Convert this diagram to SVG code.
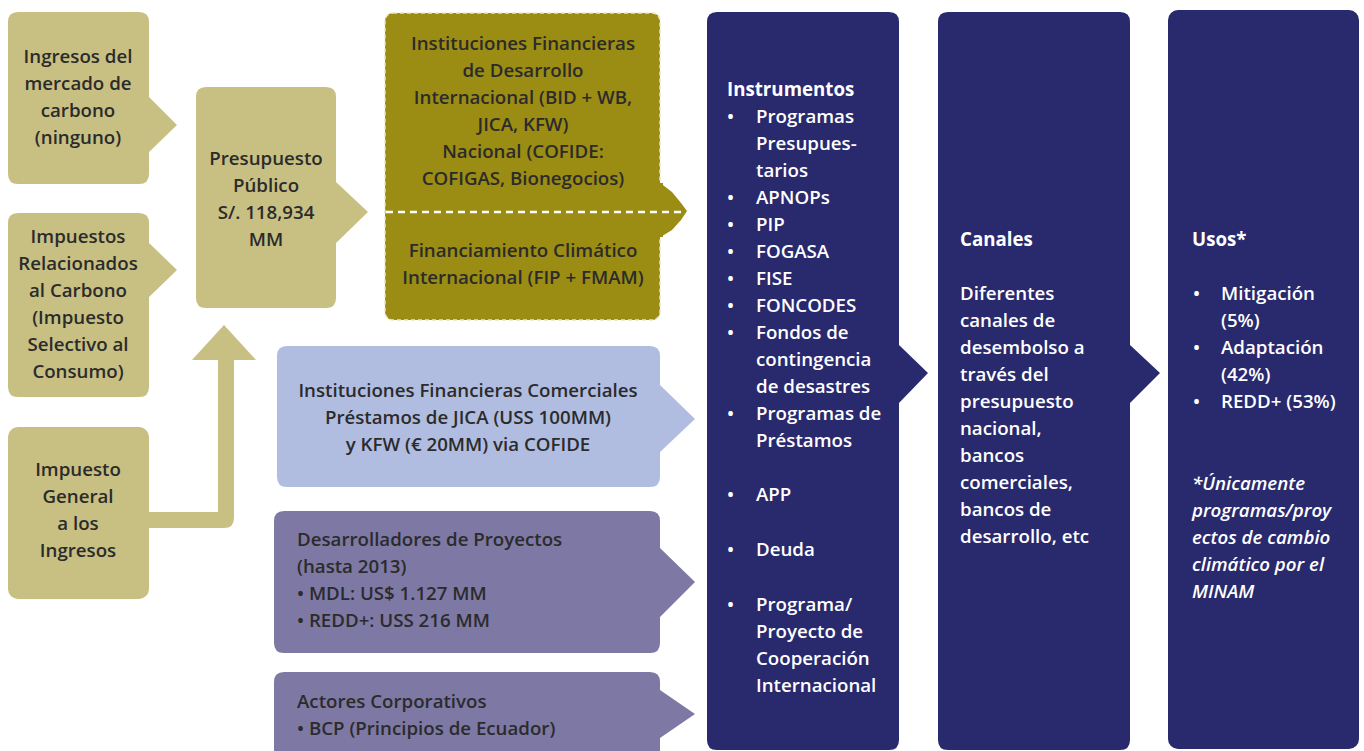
<svg xmlns="http://www.w3.org/2000/svg" width="1364" height="751" viewBox="0 0 1364 751">
<style>
.t{font-family:"Open Sans","Noto Sans","Liberation Sans",sans-serif;font-weight:600;font-size:18.7px;fill:#2b2b2b}
.c{text-anchor:middle}
.w{fill:#ffffff}
.b{font-weight:700}
.i{font-style:italic}
.tan{fill:#c8bf82}
.olive{fill:#9b8c13}
.blue{fill:#b0bde0}
.purple{fill:#7e78a5}
.navy{fill:#29296e}
</style>
<rect width="1364" height="751" fill="#ffffff"/>
<g id="ingresos-mercado">
<path class="tan" d="M18,12 H139 Q149,12 149,22 V97 L177,125 L149,152 V174 Q149,184 139,184 H18 Q8,184 8,174 V22 Q8,12 18,12 Z"/>
<text class="t c" x="78"><tspan x="78" y="63">Ingresos del</tspan><tspan x="78" y="90">mercado de</tspan><tspan x="78" y="117">carbono</tspan><tspan x="78" y="144">(ninguno)</tspan></text>
</g>
<g id="impuestos-carbono">
<path class="tan" d="M18,213 H139 Q149,213 149,223 V243 L177,270 L149,297 V387 Q149,397 139,397 H18 Q8,397 8,387 V223 Q8,213 18,213 Z"/>
<text class="t c"><tspan x="78" y="243">Impuestos</tspan><tspan x="78" y="270">Relacionados</tspan><tspan x="78" y="297">al Carbono</tspan><tspan x="78" y="324">(Impuesto</tspan><tspan x="78" y="351">Selectivo al</tspan><tspan x="78" y="378">Consumo)</tspan></text>
</g>
<g id="impuesto-general">
<rect class="tan" x="8" y="427" width="141" height="172" rx="10"/>
<text class="t c"><tspan x="78" y="476">Impuesto</tspan><tspan x="78" y="503">General</tspan><tspan x="78" y="530">a los</tspan><tspan x="78" y="557">Ingresos</tspan></text>
</g>
<g id="presupuesto">
<path class="tan" d="M206,87 H326 Q336,87 336,97 V182 L368,212 L336,243 V298 Q336,308 326,308 H206 Q196,308 196,298 V97 Q196,87 206,87 Z"/>
<text class="t c"><tspan x="266" y="165">Presupuesto</tspan><tspan x="266" y="192">Público</tspan><tspan x="266" y="219">S/. 118,934</tspan><tspan x="266" y="246">MM</tspan></text>
</g>
<g id="instituciones-desarrollo">
<polygon class="olive" points="659,182 672,192 681,203 687,211 681,220 672,230 659,238"/>
<rect class="olive" x="385" y="13" width="275" height="307" rx="8" stroke="#ece6c0" stroke-width="1.5" stroke-dasharray="4 3"/>
<rect class="olive" x="655" y="183" width="8" height="54"/>
<line x1="386" y1="212" x2="685" y2="212" stroke="#ffffff" stroke-width="2.5" stroke-dasharray="7 5"/>
<text class="t c"><tspan x="523" y="50">Instituciones Financieras</tspan><tspan x="523" y="77">de Desarrollo</tspan><tspan x="523" y="104">Internacional (BID + WB,</tspan><tspan x="523" y="131">JICA, KFW)</tspan><tspan x="523" y="158">Nacional (COFIDE:</tspan><tspan x="523" y="185">COFIGAS, Bionegocios)</tspan><tspan x="523" y="257">Financiamiento Climático</tspan><tspan x="523" y="284">Internacional (FIP + FMAM)</tspan></text>
</g>
<g id="instituciones-comerciales">
<path class="blue" d="M287,346 H650 Q660,346 660,356 V385 L695,419 L660,452 V477 Q660,487 650,487 H287 Q277,487 277,477 V356 Q277,346 287,346 Z"/>
<text class="t c"><tspan x="468" y="397">Instituciones Financieras Comerciales</tspan><tspan x="468" y="424">Préstamos de JICA (USS 100MM)</tspan><tspan x="468" y="451">y KFW (€ 20MM) via COFIDE</tspan></text>
</g>
<g id="desarrolladores">
<path class="purple" d="M284,511 H650 Q660,511 660,521 V548 L695,582 L660,617 V643 Q660,653 650,653 H284 Q274,653 274,643 V521 Q274,511 284,511 Z"/>
<text class="t"><tspan x="297" y="546">Desarrolladores de Proyectos</tspan><tspan x="297" y="573">(hasta 2013)</tspan><tspan x="297" y="600">• MDL: US$ 1.127 MM</tspan><tspan x="297" y="627">• REDD+: USS 216 MM</tspan></text>
</g>
<g id="actores-corporativos">
<path class="purple" d="M284,672 H650 Q660,672 660,682 V690 L695,714 L660,738 V761 H274 V682 Q274,672 284,672 Z"/>
<text class="t"><tspan x="297" y="708">Actores Corporativos</tspan><tspan x="297" y="735">• BCP (Principios de Ecuador)</tspan></text>
</g>
<g id="instrumentos">
<path class="navy" d="M717,12 H889 Q899,12 899,22 V345 L928,373 L899,403 V740 Q899,750 889,750 H717 Q707,750 707,740 V22 Q707,12 717,12 Z"/>
<text class="t w b"><tspan x="727" y="96">Instrumentos</tspan></text>
<text class="t w"><tspan x="727" y="123">•</tspan><tspan x="727" y="204">•</tspan><tspan x="727" y="231">•</tspan><tspan x="727" y="258">•</tspan><tspan x="727" y="285">•</tspan><tspan x="727" y="312">•</tspan><tspan x="727" y="339">•</tspan><tspan x="727" y="420">•</tspan><tspan x="727" y="501">•</tspan><tspan x="727" y="556">•</tspan><tspan x="727" y="611">•</tspan></text>
<text class="t w"><tspan x="756" y="123">Programas</tspan><tspan x="756" y="150">Presupues-</tspan><tspan x="756" y="177">tarios</tspan><tspan x="756" y="204">APNOPs</tspan><tspan x="756" y="231">PIP</tspan><tspan x="756" y="258">FOGASA</tspan><tspan x="756" y="285">FISE</tspan><tspan x="756" y="312">FONCODES</tspan><tspan x="756" y="339">Fondos de</tspan><tspan x="756" y="366">contingencia</tspan><tspan x="756" y="393">de desastres</tspan><tspan x="756" y="420">Programas de</tspan><tspan x="756" y="447">Préstamos</tspan><tspan x="756" y="501">APP</tspan><tspan x="756" y="556">Deuda</tspan><tspan x="756" y="611">Programa/</tspan><tspan x="756" y="638">Proyecto de</tspan><tspan x="756" y="665">Cooperación</tspan><tspan x="756" y="692">Internacional</tspan></text>
</g>
<g id="canales">
<path class="navy" d="M948,12 H1120 Q1130,12 1130,22 V345 L1160,373 L1130,403 V740 Q1130,750 1120,750 H948 Q938,750 938,740 V22 Q938,12 948,12 Z"/>
<text class="t w b"><tspan x="960" y="246">Canales</tspan></text>
<text class="t w"><tspan x="960" y="300">Diferentes</tspan><tspan x="960" y="327">canales de</tspan><tspan x="960" y="354">desembolso a</tspan><tspan x="960" y="381">través del</tspan><tspan x="960" y="408">presupuesto</tspan><tspan x="960" y="435">nacional,</tspan><tspan x="960" y="462">bancos</tspan><tspan x="960" y="489">comerciales,</tspan><tspan x="960" y="516">bancos de</tspan><tspan x="960" y="543">desarrollo, etc</tspan></text>
</g>
<g id="usos">
<rect class="navy" x="1168" y="10" width="191" height="739" rx="10"/>
<text class="t w b"><tspan x="1192" y="246">Usos*</tspan></text>
<text class="t w"><tspan x="1193" y="300">•</tspan><tspan x="1193" y="354">•</tspan><tspan x="1193" y="408">•</tspan></text>
<text class="t w"><tspan x="1221" y="300">Mitigación</tspan><tspan x="1221" y="327">(5%)</tspan><tspan x="1221" y="354">Adaptación</tspan><tspan x="1221" y="381">(42%)</tspan><tspan x="1221" y="408">REDD+ (53%)</tspan></text>
<text class="t w i"><tspan x="1192" y="490">*Únicamente</tspan><tspan x="1192" y="517">programas/proy</tspan><tspan x="1192" y="544">ectos de cambio</tspan><tspan x="1192" y="571">climático por el</tspan><tspan x="1192" y="598">MINAM</tspan></text>
</g>
<g id="connectors">
<path class="tan" d="M149,512 H218 V360 H192 L224,325 L256,360 H234 V518 Q234,528 224,528 H149 Z"/>
</g>
</svg>
